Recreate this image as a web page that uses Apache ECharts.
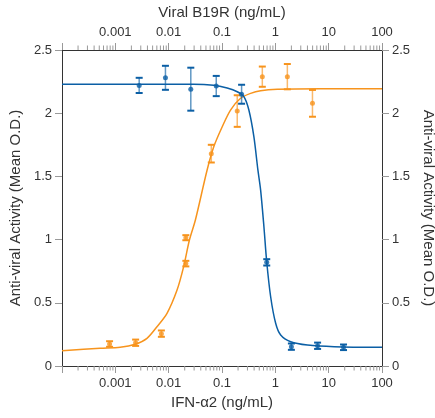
<!DOCTYPE html>
<html>
<head>
<meta charset="utf-8">
<title>Anti-viral Activity</title>
<script src="https://cdn.jsdelivr.net/npm/echarts@6/dist/echarts.min.js"></script>
<style>
    html, body { margin: 0; padding: 0; background: #fff; }
    #chart { width: 435px; height: 418px; }
</style>
</head>
<body>
<div id="chart"></div>
<script>
/*抗病毒活性曲线*/

// 坐标轴刻度
var majorTicks = [0.0001, 0.001, 0.01, 0.1, 1, 10, 100];
var tickLabels = ['', '0.001', '0.01', '0.1', '1', '10', '100'];
var minorTicks = [
    0.0002, 0.0003, 0.0004, 0.0005, 0.0006, 0.0007, 0.0008, 0.0009,
    0.002, 0.003, 0.004, 0.005, 0.006, 0.007, 0.008, 0.009,
    0.02, 0.03, 0.04, 0.05, 0.06, 0.07, 0.08, 0.09,
    0.2, 0.3, 0.4, 0.5, 0.6, 0.7, 0.8, 0.9,
    2, 3, 4, 5, 6, 7, 8, 9,
    20, 30, 40, 50, 60, 70, 80, 90
];
var yTicks = [0, 0.5, 1, 1.5, 2, 2.5];

// Viral B19R (蓝)
var b19rDose = [0.0028, 0.0087, 0.026, 0.078, 0.233, 0.69, 2.0, 6.2, 19];
var b19rMean = [2.22, 2.28, 2.19, 2.215, 2.15, 0.82, 0.153, 0.16, 0.148];
var b19rErr = [0.06, 0.095, 0.17, 0.08, 0.075, 0.025, 0.025, 0.025, 0.022];
var b19rFitX = [0.0001, 0.0291, 0.0692, 0.125, 0.193, 0.257, 0.319, 0.396, 0.471, 0.53, 0.611, 0.687, 0.817, 1.014, 1.259, 1.94, 4.0, 12.7, 100];
var b19rFitY = [2.229, 2.229, 2.221, 2.199, 2.17, 2.131, 2.025, 1.814, 1.551, 1.392, 1.102, 0.831, 0.548, 0.338, 0.245, 0.192, 0.166, 0.153, 0.148];

// IFN-α2 (橙)
var ifnDose = [0.00078, 0.0024, 0.0073, 0.021, 0.021, 0.063, 0.193, 0.57, 1.68, 4.97];
var ifnMean = [0.174, 0.184, 0.256, 0.81, 1.015, 1.68, 2.017, 2.289, 2.289, 2.078];
var ifnErr = [0.022, 0.025, 0.025, 0.022, 0.02, 0.07, 0.125, 0.08, 0.1, 0.106];
var ifnFitX = [0.0001, 0.000519, 0.00123, 0.00236, 0.00392, 0.00604, 0.00931, 0.01436, 0.0191, 0.0245, 0.0317, 0.0526, 0.0701, 0.101, 0.1445, 0.223, 0.344, 0.53, 1.09, 7.11, 100];
var ifnFitY = [0.121, 0.14, 0.148, 0.172, 0.219, 0.311, 0.417, 0.601, 0.786, 0.997, 1.155, 1.551, 1.735, 1.893, 2.025, 2.118, 2.157, 2.178, 2.189, 2.193, 2.193];

var blue = '#0b5fa5';
var orange = '#f7941d';
var axisColor = '#333';
var tickColor = '#999';
var fontFamily = '"Liberation Sans", Arial, sans-serif';

function zip(xs, ys) {
    var out = [];
    for (var i = 0; i < xs.length; i++) {
        out.push([xs[i], ys[i]]);
    }
    return out;
}

function errData(xs, mean, err) {
    var out = [];
    for (var i = 0; i < xs.length; i++) {
        out.push([xs[i], mean[i] - err[i], mean[i] + err[i]]);
    }
    return out;
}

function renderErrorBar(color) {
    return function (params, api) {
        var lo = api.coord([api.value(0), api.value(1)]);
        var hi = api.coord([api.value(0), api.value(2)]);
        var half = 3.5;
        return {
            type: 'group',
            children: [
                {
                    type: 'line',
                    shape: { x1: lo[0], y1: lo[1], x2: hi[0], y2: hi[1] },
                    style: { stroke: color, lineWidth: 1.5, opacity: 0.65 }
                },
                {
                    type: 'line',
                    shape: { x1: lo[0] - half, y1: lo[1], x2: lo[0] + half, y2: lo[1] },
                    style: { stroke: color, lineWidth: 2 }
                },
                {
                    type: 'line',
                    shape: { x1: hi[0] - half, y1: hi[1], x2: hi[0] + half, y2: hi[1] },
                    style: { stroke: color, lineWidth: 2 }
                }
            ]
        };
    };
}

// 次刻度：在上下两条轴外侧画短线
function renderMinorTick(params, api) {
    var bottom = api.coord([api.value(0), 0]);
    var top = api.coord([api.value(0), 2.5]);
    var len = 4.5;
    var style = { stroke: tickColor, lineWidth: 1 };
    return {
        type: 'group',
        children: [
            { type: 'line', shape: { x1: bottom[0], y1: bottom[1], x2: bottom[0], y2: bottom[1] + len }, style: style },
            { type: 'line', shape: { x1: top[0], y1: top[1], x2: top[0], y2: top[1] - len }, style: style }
        ]
    };
}

function labelOf(v) {
    for (var i = 0; i < majorTicks.length; i++) {
        if (Math.abs(Math.log10(v) - Math.log10(majorTicks[i])) < 1e-6) {
            return tickLabels[i];
        }
    }
    return '';
}

function logAxis(position, name, nameGap) {
    return {
        type: 'log',
        logBase: 10,
        position: position,
        min: 0.0001,
        max: 100,
        splitNumber: 6,
        name: name,
        nameLocation: 'middle',
        nameGap: nameGap,
        nameTextStyle: { color: axisColor, fontSize: 15, fontFamily: fontFamily },
        axisLine: { show: true, onZero: false, lineStyle: { color: axisColor, width: 1 } },
        axisTick: { show: true, length: 7, lineStyle: { color: tickColor } },
        axisLabel: {
            margin: 11,
            color: axisColor,
            fontSize: 13,
            fontFamily: fontFamily,
            formatter: labelOf
        },
        splitLine: { show: false }
    };
}

function valueAxis(position, nameRotate, nameGap) {
    return {
        type: 'value',
        position: position,
        min: 0,
        max: 2.5,
        interval: 0.5,
        name: 'Anti-viral Activity (Mean O.D.)',
        nameLocation: 'middle',
        nameRotate: nameRotate,
        nameGap: nameGap,
        nameTextStyle: { color: axisColor, fontSize: 15, fontFamily: fontFamily },
        axisLine: { show: true, lineStyle: { color: axisColor, width: 1 } },
        axisTick: { show: true, length: 7, lineStyle: { color: tickColor } },
        axisLabel: {
            margin: 10,
            color: axisColor,
            fontSize: 13,
            fontFamily: fontFamily,
            formatter: function (v) {
                return yTicks.indexOf(v) >= 0 ? String(v) : '';
            }
        },
        splitLine: { show: false }
    };
}

var chart = echarts.init(document.getElementById('chart'), null, { renderer: 'canvas' });

var option = {
    animation: false,
    backgroundColor: '#fff',
    grid: {
        left: 62,
        right: 53,
        top: 50,
        bottom: 52,
        containLabel: false,
        outerBoundsMode: 'none'
    },
    xAxis: [
        logAxis('bottom', 'IFN-\u03b12 (ng/mL)', 21),
        logAxis('top', 'Viral B19R (ng/mL)', 30)
    ],
    yAxis: [
        valueAxis('left', 90, 35),
        valueAxis('right', -90, 38)
    ],
    series: [
        {
            name: 'minor ticks',
            type: 'custom',
            xAxisIndex: 0,
            yAxisIndex: 0,
            data: minorTicks.map(function (v) { return [v]; }),
            renderItem: renderMinorTick,
            clip: false,
            silent: true,
            z: 1
        },
        {
            name: 'IFN fit',
            type: 'line',
            xAxisIndex: 0,
            yAxisIndex: 0,
            data: zip(ifnFitX, ifnFitY),
            smooth: 0.3,
            showSymbol: false,
            lineStyle: { color: orange, width: 1.5 },
            z: 2
        },
        {
            name: 'B19R fit',
            type: 'line',
            xAxisIndex: 1,
            yAxisIndex: 0,
            data: zip(b19rFitX, b19rFitY),
            smooth: 0.3,
            showSymbol: false,
            lineStyle: { color: blue, width: 1.5 },
            z: 3
        },
        {
            name: 'IFN err',
            type: 'custom',
            xAxisIndex: 0,
            yAxisIndex: 0,
            data: errData(ifnDose, ifnMean, ifnErr),
            renderItem: renderErrorBar(orange),
            z: 4
        },
        {
            name: 'B19R err',
            type: 'custom',
            xAxisIndex: 1,
            yAxisIndex: 0,
            data: errData(b19rDose, b19rMean, b19rErr),
            renderItem: renderErrorBar(blue),
            z: 4
        },
        {
            name: 'IFN',
            type: 'scatter',
            xAxisIndex: 0,
            yAxisIndex: 0,
            data: zip(ifnDose, ifnMean),
            symbolSize: 5,
            itemStyle: { color: orange },
            z: 5
        },
        {
            name: 'B19R',
            type: 'scatter',
            xAxisIndex: 1,
            yAxisIndex: 0,
            data: zip(b19rDose, b19rMean),
            symbolSize: 5,
            itemStyle: { color: blue },
            z: 5
        }
    ]
};

chart.setOption(option);
</script>
</body>
</html>
